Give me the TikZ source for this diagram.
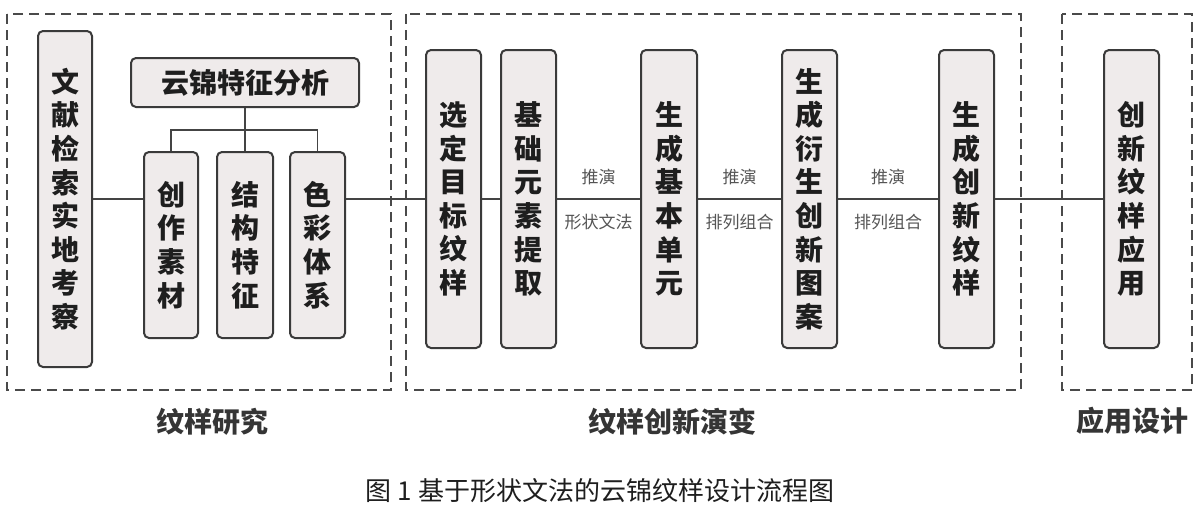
\documentclass[tikz,border=0pt]{standalone}
\usepackage{fontspec}
\newfontfamily\cjk{Noto Sans CJK SC}
\definecolor{boxc}{HTML}{3A3A3A}
\definecolor{boxfill}{HTML}{EFEBEB}
\definecolor{txt}{HTML}{1E1E1E}
\definecolor{lblc}{HTML}{555555}
\definecolor{linec}{HTML}{444444}
\definecolor{dashc}{HTML}{4A4A4A}
\begin{document}
\begin{tikzpicture}[x=0.5pt,y=-0.5pt,
  box/.style={draw=boxc, line width=1pt, fill=boxfill, rounded corners=2.5pt,
    inner sep=0pt, align=center, text=txt,
    font=\cjk\bfseries\fontsize{14}{16.8}\selectfont},
  conn/.style={draw=linec, line width=0.75pt},
  lbl/.style={text=lblc, inner sep=0pt, font=\cjk\fontsize{8.5}{10}\selectfont},
  grp/.style={draw=dashc, line width=1pt, dash pattern=on 5pt off 3pt},
  grplbl/.style={text=txt!90!white, inner sep=0pt, font=\cjk\bfseries\fontsize{14}{16}\selectfont},
  captext/.style={text=txt, inner sep=0pt, font=\cjk\fontsize{13}{15}\selectfont}]
\useasboundingbox (0,0) rectangle (1200,514);
\fill[white] (0,0) rectangle (1200,514);

% group frames
\draw[grp] (7,14) rectangle (391,390);
\draw[grp] (406,14) rectangle (1021,390);
\draw[grp] (1062,14) rectangle (1192,390);

% nodes
\node[box, minimum width=27pt, minimum height=168pt] (wx) at (65,199) {文\\献\\检\\索\\实\\地\\考\\察};
\node[box, minimum width=114pt, minimum height=24.5pt] (yj) at (245,82.5) {云锦特征分析};
\node[box, minimum width=27pt, minimum height=93pt] (cz) at (171,245) {创\\作\\素\\材};
\node[box, minimum width=28pt, minimum height=93pt] (jg) at (245,245) {结\\构\\特\\征};
\node[box, minimum width=27.5pt, minimum height=93pt] (sc) at (317.5,245) {色\\彩\\体\\系};

\node[box, minimum width=27.5pt, minimum height=149pt] (xd) at (453.5,199) {选\\定\\目\\标\\纹\\样};
\node[box, minimum width=27.5pt, minimum height=149pt] (jc) at (528.5,199) {基\\础\\元\\素\\提\\取};
\node[box, minimum width=28pt, minimum height=149pt] (sj) at (669,199) {生\\成\\基\\本\\单\\元};
\node[box, minimum width=27.5pt, minimum height=149pt] (ys) at (809.5,199) {生\\成\\衍\\生\\创\\新\\图\\案};
\node[box, minimum width=27.5pt, minimum height=149pt] (cx) at (966.5,199) {生\\成\\创\\新\\纹\\样};
\node[box, minimum width=27.5pt, minimum height=149pt] (yy) at (1131.5,199) {创\\新\\纹\\样\\应\\用};

% tree connector
\coordinate (hub) at (245,130);
\draw[conn] (yj.south) -- (hub);
\draw[conn] (cz.north) |- (hub) -| (sc.north);
\draw[conn] (hub) -- (jg.north);

% main flow
\draw[conn] (wx.east) -- (wx.east -| cz.west);
\draw[conn] (wx.east -| sc.east) -- (xd.west);
\draw[conn] (xd) -- (jc);
\draw[conn] (jc) -- node[lbl, midway, yshift=11pt] {推演} node[lbl, midway, yshift=-11.5pt] {形状文法} (sj);
\draw[conn] (sj) -- node[lbl, midway, yshift=11pt] {推演} node[lbl, midway, yshift=-11.5pt] {排列组合} (ys);
\draw[conn] (ys) -- node[lbl, midway, yshift=11pt] {推演} node[lbl, midway, yshift=-11.5pt] {排列组合} (cx);
\draw[conn] (cx) -- (yy);

% group labels
\node[grplbl] (g1) at (212,422) {纹样研究};
\node[grplbl] (g2) at (672,422) {纹样创新演变};
\node[grplbl] (g3) at (1132,421) {应用设计};

% caption
\node[captext] (caption) at (600,491) {图 1 基于形状文法的云锦纹样设计流程图};
\end{tikzpicture}
\end{document}
